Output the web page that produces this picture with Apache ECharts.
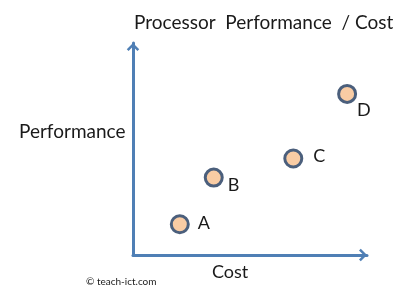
<!DOCTYPE html>
<html><head><meta charset="utf-8">
<script src="https://cdn.jsdelivr.net/npm/echarts@6/dist/echarts.min.js"></script>
<style>html,body{margin:0;padding:0;background:#fff}#c{width:415px;height:299px}</style>
</head><body><div id="c"></div>
<script>
const names = ['A','B','C','D'];
const costValues = [20, 34.5, 68.5, 91.5];
const perfValues = [14.5, 36.5, 45.5, 76];
const labelOffsets = [[0,-1],[-4,8],[2,-2],[-8,16]];

const FONT = 'Lato';
const TXT = {fontFamily:FONT,fontSize:18,fontWeight:'normal',color:'#1a1a1a'};
const TXT19 = {fontFamily:FONT,fontSize:19,fontWeight:'normal',color:'#1a1a1a'};
const chevron = 'path://M0,0 L7,7 L5,9 L0,4 L-5,9 L-7,7 Z';
const chart = echarts.init(document.getElementById('c'));
chart.setOption({
  animation:false,
  backgroundColor:'#fff',
  title:[
    {text:'Processor  Performance  / Cost', left:134, top:13, padding:0, textStyle:TXT19},
    {text:'Performance', left:19, top:122, padding:0, textStyle:TXT19},
    {text:'Cost', left:212, top:263, padding:0, textStyle:TXT},
    {text:'© teach-ict.com', left:86, top:277, padding:0, textStyle:{fontFamily:FONT,fontSize:10,fontWeight:'normal',color:'#1a1a1a'}}
  ],
  grid:{left:133, right:48, top:43, bottom:44},
  xAxis:{type:'value', min:0, max:100,
    axisLine:{show:true, lineStyle:{color:'#4f7fb5', width:3}, symbol:['none',chevron], symbolSize:[13,8], symbolOffset:[0,-4]},
    axisTick:{show:false}, axisLabel:{show:false}, splitLine:{show:false}},
  yAxis:{type:'value', min:0, max:100,
    axisLine:{show:true, lineStyle:{color:'#4f7fb5', width:3}, symbol:['none',chevron], symbolSize:[13,8], symbolOffset:[0,-4]},
    axisTick:{show:false}, axisLabel:{show:false}, splitLine:{show:false}},
  series:[{
    type:'scatter',
    symbol:'circle', symbolSize:17,
    itemStyle:{color:'#f9cca4', borderColor:'#4b5f7c', borderWidth:3, opacity:1},
    data: names.map((n,i)=>({value:[costValues[i], perfValues[i]], name:n,
      label:{show:true, position:'right', distance:8, offset:labelOffsets[i], formatter:n,
        fontFamily:FONT, fontSize:18, color:'#1a1a1a'}}))
  }]
});
</script></body></html>
